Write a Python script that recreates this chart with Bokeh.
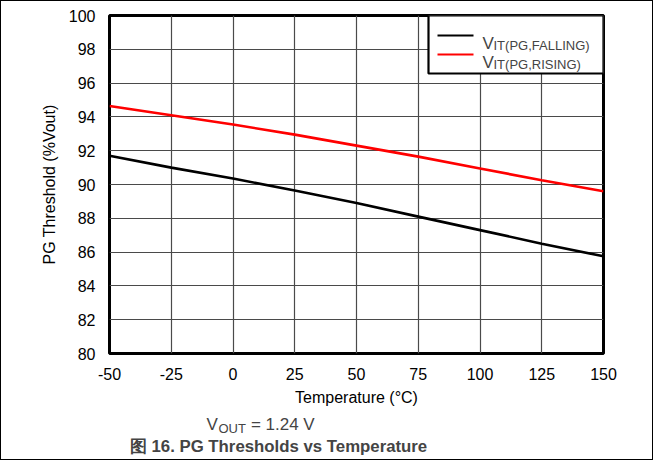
from bokeh.plotting import figure
from bokeh.models import Range1d, FixedTicker, Label
from bokeh.embed import file_html
from bokeh.resources import INLINE

# ---- data ----
temperature = [-50, -25, 0, 25, 50, 75, 100, 125, 150]
vit_falling = [91.7, 91.0, 90.35, 89.65, 88.9, 88.1, 87.3, 86.5, 85.75]
vit_rising = [94.65, 94.1, 93.55, 92.95, 92.3, 91.65, 90.95, 90.25, 89.6]
x_ticks = [-50, -25, 0, 25, 50, 75, 100, 125, 150]
x_tick_labels = ["-50", "-25", "0", "25", "50", "75", "100", "125", "150"]
y_ticks = [80, 82, 84, 86, 88, 90, 92, 94, 96, 98, 100]
series_names = ["IT(PG,FALLING)", "IT(PG,RISING)"]
series_colors = ["#000000", "#ff0000"]

FONT = "Liberation Sans"
FW, FH = 494, 338

p = figure(frame_width=FW, frame_height=FH,
           min_border_left=108, min_border_right=49,
           min_border_top=14, min_border_bottom=106,
           x_range=Range1d(-50, 150), y_range=Range1d(80, 100),
           output_backend="svg", toolbar_location=None,
           background_fill_color="white", border_fill_color="white",
           styles={"border": "1px solid black"})

p.extra_x_ranges = {"px": Range1d(0, FW)}
p.extra_y_ranges = {"px": Range1d(0, FH)}

p.outline_line_color = "black"
p.outline_line_width = 3

for ax in (p.xaxis, p.yaxis):
    ax.axis_line_color = None
    ax.major_tick_line_color = None
    ax.minor_tick_line_color = None
    ax.major_label_text_font = FONT
    ax.major_label_text_font_size = "16px"
    ax.major_label_text_color = "black"
    ax.axis_label_text_font = FONT
    ax.axis_label_text_font_size = "16px"
    ax.axis_label_text_font_style = "normal"
    ax.axis_label_text_color = "black"

p.xaxis.ticker = FixedTicker(ticks=x_ticks)
p.xaxis.major_label_overrides = dict(zip(x_ticks, x_tick_labels))
p.yaxis.ticker = FixedTicker(ticks=y_ticks)
p.xaxis.major_label_standoff = 8
p.yaxis.major_label_standoff = 8
p.xaxis.axis_label = "Temperature (°C)"
p.yaxis.axis_label = "PG Threshold (%Vout)"
p.xaxis.axis_label_standoff = 6
p.yaxis.axis_label_standoff = 8

p.xgrid.ticker = FixedTicker(ticks=x_ticks)
p.ygrid.ticker = FixedTicker(ticks=y_ticks)
for g in (p.xgrid, p.ygrid):
    g.grid_line_color = "#4a4a4a"
    g.grid_line_width = 1.2

p.line(temperature, vit_falling, line_color=series_colors[0], line_width=2.6)
p.line(temperature, vit_rising, line_color=series_colors[1], line_width=2.6)

# ---- legend box (frame pixel coordinates) ----
p.quad(left=[319], right=[FW], bottom=[280], top=[FH],
       fill_color="white", line_color="black", line_width=2.2,
       x_range_name="px", y_range_name="px")
p.segment(x0=[328, 328], x1=[364, 364], y0=[318, 299], y1=[318, 299],
          line_color=series_colors, line_width=2.2,
          x_range_name="px", y_range_name="px")
for i, name in enumerate(series_names):
    yb = 310 - 18.5 * i
    p.add_layout(Label(x=373, y=yb, x_units="screen", y_units="screen",
                       text="V", text_font=FONT, text_font_size="17px",
                       text_baseline="alphabetic", text_align="left"))
    p.add_layout(Label(x=384, y=yb - 2, x_units="screen", y_units="screen",
                       text=name, text_font=FONT, text_font_size="13px",
                       text_baseline="alphabetic", text_align="left"))

# ---- notes below the chart ----
NB = "\u00a0"
p.add_layout(Label(x=97, y=3, x_units="screen", y_units="screen",
                   text="V" + NB * 7 + "= 1.24 V", text_font=FONT,
                   text_font_size="17px", text_baseline="alphabetic"), "below")
p.add_layout(Label(x=169, y=0, x_units="screen", y_units="screen",
                   text="图 16. PG Thresholds vs Temperature", text_font=FONT,
                   text_font_size="16.8px", text_font_style="bold",
                   text_baseline="alphabetic", text_align="center"), "below")
p.add_layout(Label(x=-385, y=-75, x_units="screen", y_units="screen",
                   text="OUT", text_font=FONT, text_font_size="13px",
                   text_baseline="alphabetic"), "right")

open("out.html", "w").write(file_html(p, INLINE))
